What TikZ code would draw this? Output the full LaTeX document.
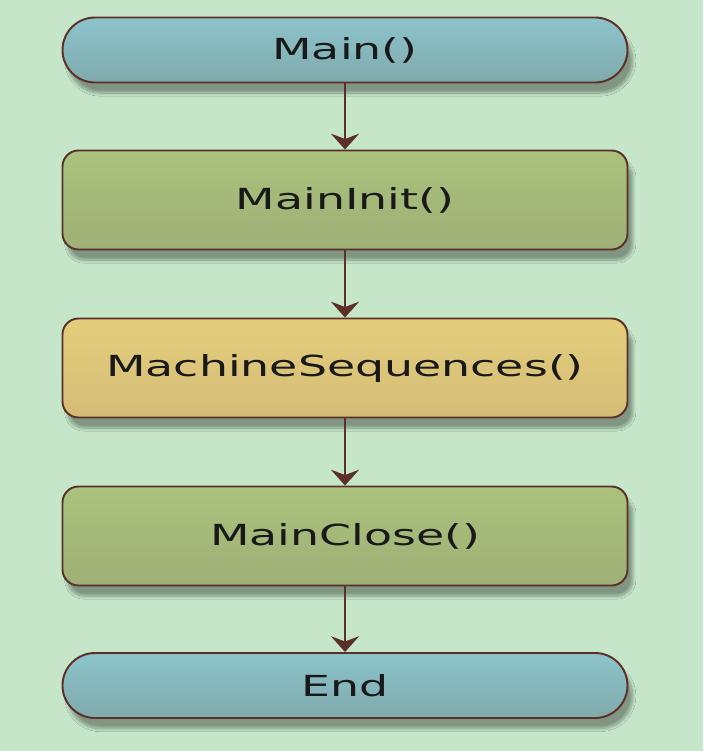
\documentclass[tikz,border=0pt]{standalone}
\usepackage{fontspec}
\usepackage{tikz}
\usetikzlibrary{arrows.meta,shadows.blur}
\newfontfamily\boxfont[FakeStretch=1.58]{DejaVu Sans}
\definecolor{bgcol}{RGB}{197,230,200}
\definecolor{linecol}{RGB}{92,48,40}
\definecolor{pilltop}{RGB}{140,196,204}
\definecolor{pillbot}{RGB}{128,170,172}
\definecolor{greentop}{RGB}{170,194,124}
\definecolor{greenbot}{RGB}{158,176,118}
\definecolor{yellowtop}{RGB}{228,206,124}
\definecolor{yellowbot}{RGB}{212,188,118}

\begin{document}
\begin{tikzpicture}[thick,
    every node/.style={font=\boxfont\fontsize{16.5}{19}\selectfont, text=black!90},
    base/.style={draw=linecol, line width=1.1pt, minimum width=11.3cm,
        blur shadow={shadow xshift=3pt, shadow yshift=-6pt, shadow blur steps=12, shadow opacity=35}},
    pill/.style={base, minimum height=1.3cm, rounded corners=0.65cm, top color=pilltop, bottom color=pillbot},
    stepbox/.style={base, minimum height=1.98cm, rounded corners=0.32cm, top color=greentop, bottom color=greenbot},
    mainbox/.style={stepbox, top color=yellowtop, bottom color=yellowbot},
    flow/.style={draw=linecol, line width=1.1pt, -{Stealth[length=9pt,width=16pt,inset=3pt]}}]
    \fill[bgcol] (0,0) rectangle (14.06,-15.02);
    \useasboundingbox (0,0) rectangle (14.06,-15.02);
        \node at (6.9,-1.0) [pill] (main) {Main()};
        \node at (6.9,-4.0) [stepbox] (init) {MainInit()};
        \node at (6.9,-7.36) [mainbox] (seq) {MachineSequences()};
        \node at (6.9,-10.72) [stepbox] (close) {MainClose()};
        \node at (6.9,-13.71) [pill] (end) {End};
        \draw[flow] (main) -- (init);
        \draw[flow] (init) -- (seq);
        \draw[flow] (seq) -- (close);
        \draw[flow] (close) -- (end);
\end{tikzpicture}
\end{document}
